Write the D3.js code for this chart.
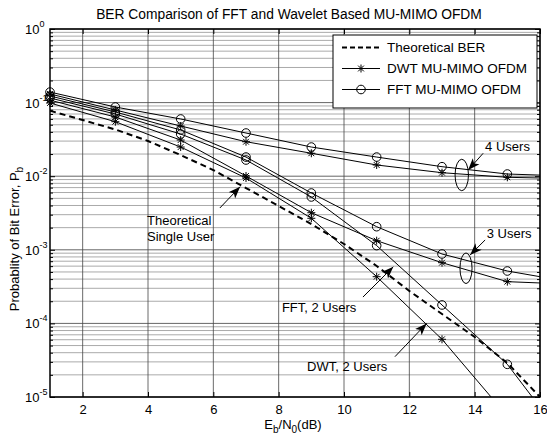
<!DOCTYPE html>
<html>
<head>
<meta charset="utf-8">
<script src="https://cdn.jsdelivr.net/npm/d3@7"></script>
<style>
  body { margin: 0; background: #fff; }
  svg { font-family: "Liberation Sans", Arial, sans-serif; }
</style>
</head>
<body>
<script>
// values (BER vs Eb/N0 in dB)
var snr = [1, 3, 5, 7, 9, 11, 13, 15, 17];
var fft4 = [0.139, 0.0871, 0.0599, 0.0386, 0.0249, 0.0182, 0.01346, 0.01071, 0.0100];
var dwt4 = [0.131, 0.0793, 0.0481, 0.0294, 0.0205, 0.0142, 0.01116, 0.00966, 0.00925];
var fft3 = [0.123, 0.0745, 0.0425, 0.0182, 0.00591, 0.00206, 0.000877, 0.000515, 0.000361];
var dwt3 = [0.108, 0.0637, 0.0310, 0.01007, 0.00319, 0.00133, 0.000668, 0.000369, 0.00034];
var fft2 = [0.1155, 0.070, 0.0374, 0.0166, 0.00522, 0.00114, 0.000178, 2.78e-5, 1.9e-6];
var dwt2 = [0.0988, 0.055, 0.0249, 0.00945, 0.00268, 0.000431, 6.08e-5, 5.5e-6, 5e-7];

var snrTheory = [1, 2, 3, 4, 5, 6, 7, 8, 9, 10, 11, 12, 13, 14, 15, 16];
var theory = [0.0776, 0.0580, 0.0431, 0.0301, 0.0194, 0.0121, 0.00691, 0.00394,
              0.00224, 0.00120, 0.000603, 0.000276, 0.000134, 6.54e-5, 2.90e-5, 1.0e-5];

var xTicks = [2, 4, 6, 8, 10, 12, 14, 16];
var yTicks = [1, 1e-1, 1e-2, 1e-3, 1e-4, 1e-5];
var yTickExp = ["0", "-1", "-2", "-3", "-4", "-5"];

var legendLabels = ["Theoretical BER", "DWT MU-MIMO OFDM", "FFT MU-MIMO OFDM"];

// annotations in data units
var notes = [
  { text: "Theoretical", x: 3.97, y: 0.00254 },
  { text: "Single User", x: 3.97, y: 0.00154 },
  { text: "FFT, 2 Users", x: 8.10, y: 1.67e-4 },
  { text: "DWT, 2 Users", x: 8.87, y: 2.58e-5 },
  { text: "4 Users", x: 14.32, y: 0.0252 },
  { text: "3 Users", x: 14.37, y: 0.00168 }
];
var arrows = [
  { x0: 6.20, y0: 0.0037, x1: 6.82, y1: 0.0072 },
  { x0: 10.58, y0: 2.28e-4, x1: 11.51, y1: 5.89e-4 },
  { x0: 11.56, y0: 3.53e-5, x1: 12.53, y1: 1.0e-4 },
  { x0: 14.26, y0: 0.0205, x1: 13.80, y1: 0.0121 },
  { x0: 14.32, y0: 0.00136, x1: 13.86, y1: 0.00085 }
];
var ellipses = [
  { x0: 13.40, x1: 13.81, y0: 0.017, y1: 0.00635 },
  { x0: 13.55, x1: 13.92, y0: 9.05e-4, y1: 3.48e-4 }
];

var W = 547, H = 438;
var svg = d3.select("body").append("svg").attr("width", W).attr("height", H);

var x = d3.scaleLinear().domain([1, 16]).range([50, 540]);
var y = d3.scaleLog().domain([1e-5, 1]).range([397, 29]);
var x0 = x.range()[0], x1 = x.range()[1], yb = y.range()[0], yt = y.range()[1];

svg.append("defs").append("clipPath").attr("id", "plotclip")
  .append("rect").attr("x", x0).attr("y", yt).attr("width", x1 - x0).attr("height", yb - yt);

svg.select("defs").append("marker").attr("id", "head")
  .attr("markerUnits", "userSpaceOnUse")
  .attr("viewBox", "0 -5 12 10").attr("refX", 12).attr("refY", 0)
  .attr("markerWidth", 12).attr("markerHeight", 10).attr("orient", "auto")
  .append("path").attr("d", "M0,-4.5L12,0L0,4.5L3,0Z").attr("fill", "#000");

// grid
var minor = y.ticks().filter(function (v) { return yTicks.indexOf(v) < 0; });
svg.append("g").selectAll("line").data(minor).enter().append("line")
  .attr("x1", x0).attr("x2", x1).attr("y1", function (d) { return y(d); }).attr("y2", function (d) { return y(d); })
  .attr("stroke", "#aaa").attr("stroke-width", 1);
svg.append("g").selectAll("line").data(yTicks).enter().append("line")
  .attr("x1", x0).attr("x2", x1).attr("y1", function (d) { return y(d); }).attr("y2", function (d) { return y(d); })
  .attr("stroke", "#666").attr("stroke-width", 1);
svg.append("g").selectAll("line").data(xTicks).enter().append("line")
  .attr("y1", yt).attr("y2", yb).attr("x1", function (d) { return x(d); }).attr("x2", function (d) { return x(d); })
  .attr("stroke", "#444").attr("stroke-width", 0.8);

// axes, ticks pointing inward
function styleAxis(g) {
  g.select(".domain").remove();
  g.selectAll(".tick line").attr("stroke", "#000");
  g.selectAll("text").attr("font-size", 13).attr("fill", "#000");
}
svg.append("g").attr("transform", "translate(0," + yb + ")")
  .call(d3.axisBottom(x).tickValues(xTicks).tickSize(-5).tickPadding(8).tickFormat(d3.format("d")))
  .call(styleAxis);
svg.append("g").attr("transform", "translate(0," + yt + ")")
  .call(d3.axisTop(x).tickValues(xTicks).tickSize(-5).tickFormat(""))
  .call(styleAxis);
[[d3.axisLeft, x0], [d3.axisRight, x1]].forEach(function (a) {
  svg.append("g").attr("transform", "translate(" + a[1] + ",0)")
    .call(a[0](y).tickValues(yTicks).tickSize(-5).tickFormat("")).call(styleAxis);
  svg.append("g").attr("transform", "translate(" + a[1] + ",0)")
    .call(a[0](y).tickValues(minor).tickSize(-3).tickFormat("")).call(styleAxis);
});

// y tick labels 10^k
var yl = svg.append("g").selectAll("text").data(yTicks).enter().append("text")
  .attr("x", 25).attr("y", function (d) { return y(d) + 5; })
  .attr("font-size", 13);
yl.append("tspan").text("10");
yl.append("tspan").attr("dy", -7).attr("font-size", 9).text(function (d, i) { return yTickExp[i]; });

// data
var line = d3.line().x(function (d) { return x(d[0]); }).y(function (d) { return y(d[1]); });
function pairs(xs, ys) { return xs.map(function (v, i) { return [v, ys[i]]; }); }

var series = [
  { v: fft4, m: "o" }, { v: dwt4, m: "*" },
  { v: fft3, m: "o" }, { v: dwt3, m: "*" },
  { v: fft2, m: "o" }, { v: dwt2, m: "*" }
];

var plot = svg.append("g").attr("clip-path", "url(#plotclip)");
plot.append("path").datum(pairs(snrTheory, theory)).attr("d", line)
  .attr("fill", "none").attr("stroke", "#000").attr("stroke-width", 2).attr("stroke-dasharray", "6,4");

var star = "M-4,0L4,0M0,-4L0,4M-2.9,-2.9L2.9,2.9M-2.9,2.9L2.9,-2.9";
function drawMarker(g, m) {
  if (m === "o") g.append("circle").attr("r", 4.3).attr("fill", "none").attr("stroke", "#000").attr("stroke-width", 1);
  else g.append("path").attr("d", star).attr("fill", "none").attr("stroke", "#000").attr("stroke-width", 1);
}

series.forEach(function (s) {
  var pts = pairs(snr, s.v);
  plot.append("path").datum(pts).attr("d", line)
    .attr("fill", "none").attr("stroke", "#000").attr("stroke-width", 1);
  var inside = pts.filter(function (p) { return p[0] <= 16 && p[1] >= 1e-5; });
  svg.append("g").selectAll("g").data(inside).enter().append("g")
    .attr("transform", function (p) { return "translate(" + x(p[0]) + "," + y(p[1]) + ")"; })
    .each(function () { drawMarker(d3.select(this), s.m); });
});

// annotations
svg.append("g").selectAll("text").data(notes).enter().append("text")
  .attr("x", function (d) { return x(d.x); }).attr("y", function (d) { return y(d.y); })
  .attr("dy", "0.35em").attr("font-size", 13).text(function (d) { return d.text; });
svg.append("g").selectAll("line").data(arrows).enter().append("line")
  .attr("x1", function (d) { return x(d.x0); }).attr("y1", function (d) { return y(d.y0); })
  .attr("x2", function (d) { return x(d.x1); }).attr("y2", function (d) { return y(d.y1); })
  .attr("stroke", "#000").attr("stroke-width", 1).attr("marker-end", "url(#head)");
svg.append("g").selectAll("ellipse").data(ellipses).enter().append("ellipse")
  .attr("cx", function (d) { return (x(d.x0) + x(d.x1)) / 2; })
  .attr("cy", function (d) { return (y(d.y0) + y(d.y1)) / 2; })
  .attr("rx", function (d) { return (x(d.x1) - x(d.x0)) / 2; })
  .attr("ry", function (d) { return (y(d.y1) - y(d.y0)) / 2; })
  .attr("fill", "none").attr("stroke", "#000").attr("stroke-width", 1);

// box
svg.append("rect").attr("x", x0).attr("y", yt).attr("width", x1 - x0).attr("height", yb - yt)
  .attr("fill", "none").attr("stroke", "#000").attr("stroke-width", 1.5);

// legend
var lg = svg.append("g").attr("transform", "translate(333,35)");
lg.append("rect").attr("width", 204).attr("height", 73).attr("fill", "#fff").attr("stroke", "#000").attr("stroke-width", 1);
legendLabels.forEach(function (t, i) {
  var ly = 12.5 + i * 21;
  var l = lg.append("line").attr("x1", 9).attr("x2", 47).attr("y1", ly).attr("y2", ly).attr("stroke", "#000");
  if (i === 0) l.attr("stroke-width", 2).attr("stroke-dasharray", "5,3");
  else drawMarker(lg.append("g").attr("transform", "translate(28," + ly + ")"), i === 1 ? "*" : "o");
  lg.append("text").attr("x", 54).attr("y", ly).attr("dy", "0.35em").attr("font-size", 13.5).text(t);
});

// title and axis labels
svg.append("text").attr("x", 289).attr("y", 14).attr("dy", "0.35em").attr("text-anchor", "middle")
  .attr("font-size", 13.8).text("BER Comparison of FFT and Wavelet Based MU-MIMO OFDM");

var xl = svg.append("text").attr("x", 293).attr("y", 429).attr("text-anchor", "middle").attr("font-size", 13);
xl.append("tspan").text("E");
xl.append("tspan").attr("dy", 4).attr("font-size", 10).text("b");
xl.append("tspan").attr("dy", -4).text("/N");
xl.append("tspan").attr("dy", 4).attr("font-size", 10).text("0");
xl.append("tspan").attr("dy", -4).text("(dB)");

var ylab = svg.append("text").attr("transform", "translate(19,239) rotate(-90)")
  .attr("text-anchor", "middle").attr("font-size", 13);
ylab.append("tspan").text("Probablity of Bit Error, P");
ylab.append("tspan").attr("dy", 4).attr("font-size", 10).text("b");
</script>
</body>
</html>
